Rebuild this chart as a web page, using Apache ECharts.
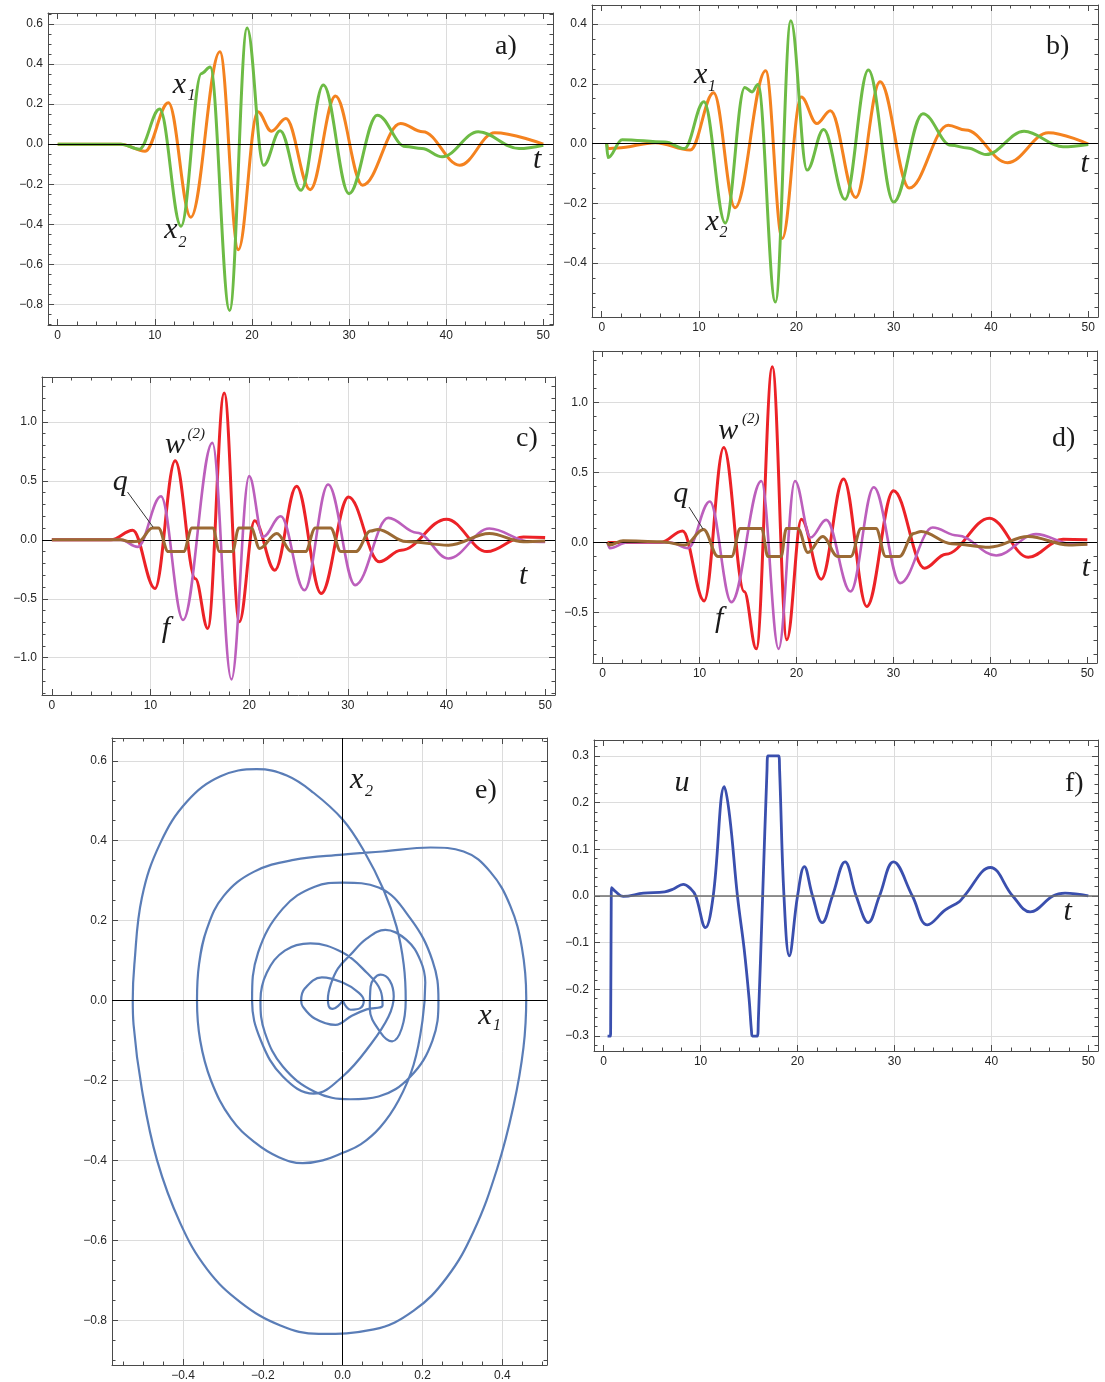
<!DOCTYPE html>
<html>
<head>
<meta charset="utf-8">
<script src="https://cdn.jsdelivr.net/npm/echarts@6.0.0/dist/echarts.min.js"></script>
<style>html,body{margin:0;padding:0;background:#fff}#c{width:1105px;height:1382px}</style>
</head>
<body>
<div id="c"></div>
<script>
// ================= DATA =================
// time-series panels a-d list the turning points (peaks, troughs, shoulders, plateau corners)
const T_TICKS = [0, 10, 20, 30, 40, 50];
const T_GRID = [10, 20, 30, 40];

// ---- panel a) x1 (orange), x2 (green) ----
const A_X1_T = [0, 6.5, 9.0, 11.4, 13.7, 16.7, 18.6, 20.6, 22.0, 23.5, 26.0, 28.6, 31.4, 35.3, 37.6, 41.4, 45.0, 50];
const A_X1_V = [0, 0, -0.035, 0.207, -0.365, 0.462, -0.527, 0.162, 0.065, 0.128, -0.227, 0.24, -0.205, 0.103, 0.062, -0.105, 0.057, 0];
const A_X2_T = [0, 6.5, 8.4, 10.5, 12.7, 14.8, 15.7, 17.7, 19.5, 21.2, 22.9, 25.05, 27.35, 30.0, 32.9, 35.8, 37.5, 39.6, 43.3, 47.5, 50];
const A_X2_V = [0, 0, -0.025, 0.175, -0.41, 0.353, 0.385, -0.83, 0.58, -0.105, 0.067, -0.23, 0.295, -0.247, 0.145, -0.012, -0.022, -0.063, 0.062, -0.022, -0.005];
const A_Y_TICKS = [-0.8, -0.6, -0.4, -0.2, 0, 0.2, 0.4, 0.6];

// ---- panel b) ----
const B_X1_T = [0.5, 0.65, 1.6, 5.5, 9.1, 11.5, 13.7, 16.85, 18.55, 20.5, 22.1, 23.5, 26.1, 28.6, 31.6, 35.6, 37.4, 41.7, 45.9, 50];
const B_X1_V = [0, -0.017, -0.015, 0.003, -0.022, 0.17, -0.215, 0.244, -0.318, 0.156, 0.067, 0.11, -0.181, 0.207, -0.149, 0.061, 0.045, -0.064, 0.036, -0.002];
const B_X2_T = [0.5, 0.65, 2.1, 6.5, 8.5, 10.5, 12.7, 14.7, 15.45, 16.05, 17.85, 19.43, 21.1, 22.8, 25.0, 27.4, 30.0, 33.0, 35.9, 37.6, 39.5, 43.4, 47.4, 50];
const B_X2_V = [0, -0.047, 0.013, 0.005, -0.017, 0.14, -0.266, 0.188, 0.173, 0.198, -0.531, 0.411, -0.089, 0.047, -0.187, 0.246, -0.196, 0.1, -0.006, -0.015, -0.037, 0.041, -0.011, -0.003];
const B_Y_TICKS = [-0.4, -0.2, 0, 0.2, 0.4];

// ---- panel c) w(2) red, f magenta, q brown ----
const C_W_T = [0, 6.0, 8.2, 10.45, 12.5, 14.55, 15.8, 17.47, 19.0, 20.55, 22.6, 24.8, 27.3, 30.07, 33.2, 35.4, 40.0, 44.1, 47.8, 50];
const C_W_V = [0, 0, 0.082, -0.412, 0.67, -0.33, -0.751, 1.246, -0.695, 0.161, -0.257, 0.455, -0.455, 0.364, -0.186, -0.088, 0.175, -0.1, 0.025, 0.02];
const C_F_T = [0, 7.0, 8.7, 11.06, 13.3, 16.27, 18.2, 20.0, 21.4, 23.2, 25.6, 28.0, 30.75, 34.1, 37.0, 40.2, 44.35, 48.5, 50];
const C_F_V = [0, 0, -0.06, 0.37, -0.68, 0.822, -1.184, 0.54, 0.025, 0.2, -0.427, 0.469, -0.384, 0.186, 0.06, -0.158, 0.096, -0.015, -0.017];
const C_Q_T = [0, 7.0, 8.0, 8.8, 10.2, 10.8, 11.8, 13.35, 14.2, 16.3, 17.0, 18.3, 18.95, 20.2, 21.06, 22.8, 24.3, 25.7, 26.7, 28.25, 29.3, 30.8, 32.3, 33.05, 35.9, 40.2, 44.35, 47.8, 50];
const C_Q_V = [0, 0, -0.017, -0.012, 0.1, 0.1, -0.1, -0.1, 0.1, 0.1, -0.1, -0.1, 0.1, 0.1, -0.073, 0.054, -0.1, -0.1, 0.1, 0.1, -0.1, -0.1, 0.075, 0.088, -0.015, -0.045, 0.054, -0.017, -0.01];
const C_Y_TICKS = [-1.0, -0.5, 0, 0.5, 1.0];

// ---- panel d) ----
const D_W_T = [0.5, 6.0, 8.24, 10.47, 12.49, 14.6, 15.85, 17.5, 19.0, 20.5, 22.55, 24.85, 27.25, 30.0, 33.2, 35.4, 39.9, 43.9, 47.5, 50];
const D_W_V = [0, 0, 0.083, -0.417, 0.679, -0.35, -0.76, 1.257, -0.695, 0.167, -0.262, 0.455, -0.457, 0.371, -0.183, -0.083, 0.174, -0.105, 0.024, 0.02];
const D_F_T = [0.5, 0.75, 2.5, 7.0, 8.8, 11.05, 13.28, 16.37, 18.15, 19.84, 21.45, 23.06, 25.57, 27.97, 30.7, 34.05, 36.6, 40.6, 44.7, 48.5, 50];
const D_F_V = [0, -0.04, 0, 0, -0.04, 0.293, -0.426, 0.44, -0.76, 0.44, 0.036, 0.162, -0.35, 0.395, -0.29, 0.107, 0.05, -0.093, 0.06, -0.012, -0.012];
const D_Q_T = [0.5, 0.7, 2.1, 6.0, 8.5, 10.4, 11.9, 13.3, 14.2, 16.4, 17.05, 18.4, 18.95, 20.15, 21.17, 22.7, 24.26, 25.6, 26.66, 28.2, 29.2, 30.6, 32.1, 32.85, 36.0, 39.9, 43.9, 48.1, 50];
const D_Q_V = [0, -0.017, 0.012, 0.005, -0.017, 0.094, -0.1, -0.1, 0.1, 0.1, -0.1, -0.1, 0.1, 0.1, -0.071, 0.043, -0.1, -0.1, 0.1, 0.1, -0.1, -0.1, 0.065, 0.079, -0.008, -0.033, 0.043, -0.017, -0.012];
const D_Y_TICKS = [-0.5, 0, 0.5, 1.0];

// ---- panel e) phase trajectory (x1, x2) ----
const E_X1 = [0, -0.01, -0.025, -0.035, -0.037, -0.03, -0.012, 0.02, 0.06, 0.107, 0.16, 0.195, 0.207, 0.2, 0.178, 0.14, 0.094, 0.045, 0, -0.05, -0.1, -0.16, -0.22, -0.28, -0.33, -0.357, -0.365, -0.36, -0.34, -0.298, -0.223, -0.123, 0, 0.1, 0.22, 0.303, 0.37, 0.42, 0.449, 0.46, 0.453, 0.428, 0.387, 0.328, 0.261, 0.178, 0.078, -0.06, -0.156, -0.256, -0.34, -0.407, -0.465, -0.503, -0.524, -0.526, -0.522, -0.503, -0.457, -0.39, -0.306, -0.215, -0.14, -0.073, 0, 0.053, 0.103, 0.135, 0.153, 0.158, 0.148, 0.124, 0.095, 0.068, 0.07, 0.095, 0.118, 0.128, 0.115, 0.07, 0, -0.073, -0.15, -0.205, -0.227, -0.212, -0.15, -0.07, 0, 0.09, 0.17, 0.225, 0.24, 0.225, 0.17, 0.09, 0.019, -0.07, -0.15, -0.195, -0.206, -0.19, -0.145, -0.081, 0, 0.06, 0.095, 0.1, 0.06, 0.023, -0.018, -0.07, -0.1, -0.104, -0.095, -0.052, 0, 0.04, 0.053, 0.044, 0.02, 0];
const E_X2 = [0, -0.012, -0.021, -0.014, 0.004, 0.04, 0.08, 0.115, 0.155, 0.177, 0.152, 0.1, 0.045, -0.05, -0.16, -0.25, -0.317, -0.36, -0.381, -0.4, -0.407, -0.392, -0.355, -0.295, -0.2, -0.1, 0, 0.09, 0.18, 0.262, 0.322, 0.352, 0.365, 0.373, 0.383, 0.373, 0.322, 0.237, 0.133, 0.007, -0.118, -0.264, -0.421, -0.578, -0.693, -0.776, -0.823, -0.834, -0.813, -0.755, -0.672, -0.557, -0.4, -0.223, -0.06, 0, 0.09, 0.258, 0.394, 0.498, 0.561, 0.579, 0.563, 0.52, 0.453, 0.375, 0.276, 0.185, 0.09, 0, -0.07, -0.102, -0.08, -0.02, 0.035, 0.065, 0.05, 0.01, -0.04, -0.11, -0.19, -0.233, -0.19, -0.1, 0, 0.12, 0.23, 0.285, 0.295, 0.283, 0.205, 0.1, 0, -0.1, -0.19, -0.24, -0.247, -0.228, -0.165, -0.08, 0, 0.07, 0.125, 0.143, 0.12, 0.07, 0.025, -0.012, -0.022, -0.038, -0.061, -0.045, -0.015, 0, 0.03, 0.058, 0.045, 0.02, 0, -0.019, -0.023, 0];
const E_X_TICKS = [-0.4, -0.2, 0, 0.2, 0.4];
const E_Y_TICKS = [-0.8, -0.6, -0.4, -0.2, 0, 0.2, 0.4, 0.6];

// ---- panel f) control u ----
const F_U_T = [0.4, 0.7, 0.72, 0.78, 0.8, 1.2, 2.0, 4.1, 6.3, 7.2, 8.2, 9.0, 9.5, 10.5, 11.3, 12.45, 13.0, 13.8, 14.5, 15.0, 15.25, 15.35, 15.85, 15.95, 16.4, 16.85, 16.95, 18.05, 18.15, 18.6, 19.15, 20.0, 20.7, 21.55, 22.55, 23.6, 24.9, 26.05, 27.3, 28.45, 29.9, 31.85, 33.4, 35.25, 36.7, 37.2, 39.9, 42.2, 44.0, 46.35, 47.6, 50];
const F_U_V = [-0.3, -0.3, -0.27, 0.0, 0.018, 0.01, -0.001, 0.006, 0.009, 0.015, 0.025, 0.015, 0, -0.068, 0, 0.234, 0.17, 0, -0.115, -0.22, -0.29, -0.3, -0.3, -0.27, 0, 0.27, 0.3, 0.3, 0.27, 0, -0.128, 0, 0.063, 0, -0.057, 0, 0.073, 0, -0.057, 0, 0.073, 0, -0.062, -0.03, -0.012, 0, 0.061, 0, -0.034, 0, 0.006, 0];
const F_Y_TICKS = [-0.3, -0.2, -0.1, 0, 0.1, 0.2, 0.3];

// ================= STYLE / LAYOUT =================
const FRAME = '#4a4a4a', GRIDC = '#dcdcdc', LABELC = '#262626';
const SANS = '"Liberation Sans", Arial, sans-serif';
const SERIF = '"Liberation Serif", "Times New Roman", serif';
const C_ORANGE = '#F4821F', C_GREEN = '#6DBB45', C_RED = '#EC2227', C_MAG = '#BC5FBC', C_BROWN = '#9B6A34', C_EBLUE = '#5A7DB7', C_FBLUE = '#3A4FAE';

function zip(a, b) { return a.map((v, i) => [v, b[i]]); }
function ticksIn(lo, hi, step) {
  const out = []; const k0 = Math.ceil(lo / step - 1e-9), k1 = Math.floor(hi / step + 1e-9);
  for (let k = k0; k <= k1; k++) out.push(+(k * step).toFixed(6));
  return out;
}
function minorTicks(lo, hi, step, majors) {
  return ticksIn(lo, hi, step).filter(v => !majors.some(m => Math.abs(m - v) < 1e-6));
}
function fmt(dec) { return v => (v < -1e-9 ? '\u2212' : '') + Math.abs(v).toFixed(dec); }

const option = { backgroundColor: '#fff', animation: false, grid: [], xAxis: [], yAxis: [], series: [], graphic: [] };

function baseAxis(gi, r, pos) {
  return { type: 'value', gridIndex: gi, min: r[0], max: r[1], position: pos, silent: true,
    axisLine: { show: false, onZero: false }, axisTick: { show: false }, axisLabel: { show: false },
    splitLine: { show: false }, splitArea: { show: false } };
}
function tickAxis(gi, r, pos, vals, len, line, label, dec) {
  const a = baseAxis(gi, r, pos);
  a.axisTick = { show: true, inside: true, length: len, customValues: vals, lineStyle: { color: FRAME, width: 1 } };
  if (line) a.axisLine = { show: true, onZero: false, lineStyle: { color: FRAME, width: 1 } };
  if (label) a.axisLabel = { show: true, customValues: vals, formatter: fmt(dec), color: LABELC, fontSize: 12, fontFamily: SANS, margin: 5 };
  return a;
}
function gridAxis(gi, r, pos, vals) {
  const a = baseAxis(gi, r, pos);
  a.axisTick = { show: false, customValues: vals };
  a.splitLine = { show: true, lineStyle: { color: GRIDC, width: 1 } };
  return a;
}

function addPanel(P) {
  const gi = option.grid.length;
  option.grid.push({ left: P.box[0], top: P.box[1], width: P.box[2], height: P.box[3] });
  const xi = option.xAxis.length, yi = option.yAxis.length;
  const xMin = minorTicks(P.x[0], P.x[1], P.xStep, P.xMaj);
  const yMin = minorTicks(P.y[0], P.y[1], P.yStep, P.yMaj);
  option.xAxis.push(
    tickAxis(gi, P.x, 'bottom', P.xMaj, 6, true, true, P.xDec),
    tickAxis(gi, P.x, 'bottom', xMin, 3.5, false, false),
    tickAxis(gi, P.x, 'top', P.xMaj, 6, true, false),
    tickAxis(gi, P.x, 'top', xMin, 3.5, false, false),
    gridAxis(gi, P.x, 'bottom', P.xGrid));
  option.yAxis.push(
    tickAxis(gi, P.y, 'left', P.yMaj, 6, true, true, P.yDec),
    tickAxis(gi, P.y, 'left', yMin, 3.5, false, false),
    tickAxis(gi, P.y, 'right', P.yMaj, 6, true, false),
    tickAxis(gi, P.y, 'right', yMin, 3.5, false, false),
    gridAxis(gi, P.y, 'left', P.yGrid));
  P.series.forEach((s, k) => {
    const ser = { type: 'line', xAxisIndex: xi, yAxisIndex: yi, data: s.data, showSymbol: false, symbol: 'none',
      silent: true, z: 3 + k, lineStyle: { color: s.color, width: s.width || 3 }, itemStyle: { color: s.color } };
    if (s.turning) { ser.smooth = 0.37; ser.smoothMonotone = 'x'; }
    else { ser.smooth = s.smooth != null ? s.smooth : 0.4; }
    if (k === P.series.length - 1) {
      const ml = [{ yAxis: 0 }];
      if (P.vAxis) ml.push({ xAxis: 0 });
      ser.markLine = { silent: true, symbol: ['none', 'none'], label: { show: false }, animation: false,
        lineStyle: { color: P.zeroColor || '#000', width: P.zeroWidth || 1, type: 'solid' }, data: ml };
    }
    option.series.push(ser);
  });
}

addPanel({ box: [48, 13, 505, 312], x: [-1, 51], y: [-0.903, 0.655], xMaj: T_TICKS, xStep: 2, xGrid: T_GRID, xDec: 0,
  yMaj: A_Y_TICKS, yStep: 0.05, yGrid: A_Y_TICKS, yDec: 1,
  series: [{ data: zip(A_X1_T, A_X1_V), color: C_ORANGE, turning: true }, { data: zip(A_X2_T, A_X2_V), color: C_GREEN, turning: true }] });
addPanel({ box: [592, 5, 506, 312], x: [-1, 51], y: [-0.581, 0.464], xMaj: T_TICKS, xStep: 2, xGrid: T_GRID, xDec: 0,
  yMaj: B_Y_TICKS, yStep: 0.05, yGrid: B_Y_TICKS, yDec: 1,
  series: [{ data: zip(B_X1_T, B_X1_V), color: C_ORANGE, turning: true }, { data: zip(B_X2_T, B_X2_V), color: C_GREEN, turning: true }] });
addPanel({ box: [42, 377, 513, 318], x: [-1, 51], y: [-1.316, 1.381], xMaj: T_TICKS, xStep: 2, xGrid: T_GRID, xDec: 0,
  yMaj: C_Y_TICKS, yStep: 0.1, yGrid: C_Y_TICKS, yDec: 1,
  series: [{ data: zip(C_W_T, C_W_V), color: C_RED, turning: true }, { data: zip(C_F_T, C_F_V), color: C_MAG, width: 2.6, turning: true }, { data: zip(C_Q_T, C_Q_V), color: C_BROWN, turning: true }] });
addPanel({ box: [593, 351, 504, 312], x: [-1, 51], y: [-0.861, 1.369], xMaj: T_TICKS, xStep: 2, xGrid: T_GRID, xDec: 0,
  yMaj: D_Y_TICKS, yStep: 0.1, yGrid: D_Y_TICKS, yDec: 1,
  series: [{ data: zip(D_W_T, D_W_V), color: C_RED, turning: true }, { data: zip(D_F_T, D_F_V), color: C_MAG, width: 2.6, turning: true }, { data: zip(D_Q_T, D_Q_V), color: C_BROWN, turning: true }] });
addPanel({ box: [112, 738, 435, 627], x: [-0.578, 0.512], y: [-0.912, 0.657], xMaj: E_X_TICKS, xStep: 0.05, xGrid: E_X_TICKS, xDec: 1,
  yMaj: E_Y_TICKS, yStep: 0.05, yGrid: E_Y_TICKS, yDec: 1, vAxis: true,
  series: [{ data: zip(E_X1, E_X2), color: C_EBLUE, width: 2.2, smooth: 0.4 }] });
addPanel({ box: [594, 740, 504, 311], x: [-1, 51], y: [-0.332, 0.334], xMaj: T_TICKS, xStep: 2, xGrid: T_GRID, xDec: 0,
  yMaj: F_Y_TICKS, yStep: 0.02, yGrid: F_Y_TICKS, yDec: 1, zeroColor: '#6e6e6e', zeroWidth: 1.5,
  series: [{ data: zip(F_U_T, F_U_V), color: C_FBLUE, width: 2.8, smooth: 0.4 }] });

// ================= TEXT ANNOTATIONS =================
// [text, left, baseline, fontSize, italic]
const ANN = [
  ['a)', 495, 56, 28, false], ['x', 172.7, 95, 30, true], ['1', 187.5, 101.5, 16, true], ['x', 164.3, 240, 30, true], ['2', 178.5, 248, 16, true], ['t', 533, 170.7, 30, true],
  ['b)', 1046, 56, 28, false], ['x', 694, 85, 30, true], ['1', 708, 91.7, 16, true], ['x', 705.5, 232, 30, true], ['2', 719.5, 238.3, 16, true], ['t', 1080.5, 174, 30, true],
  ['c)', 516, 448.3, 28, false], ['w', 165, 455, 30, true], ['(2)', 187.5, 439.5, 15, true], ['q', 112.7, 492, 30, true], ['f', 161.7, 639, 30, true], ['t', 519, 586, 30, true],
  ['d)', 1052, 448.3, 28, false], ['w', 718.3, 441.7, 30, true], ['(2)', 742, 424, 15, true], ['q', 673.3, 504, 30, true], ['f', 715, 629, 30, true], ['t', 1081.7, 578, 30, true],
  ['e)', 475, 800, 28, false], ['x', 350, 790.6, 30, true], ['2', 365, 797, 16, true], ['x', 478.3, 1025.8, 30, true], ['1', 493, 1031, 16, true],
  ['f)', 1065, 793, 28, false], ['u', 674.6, 793, 30, true], ['t', 1063.5, 922, 30, true]
];
ANN.forEach(a => {
  option.graphic.push({ type: 'text', x: a[1], y: a[2] - 0.3375 * a[3], z: 100, silent: true,
    style: { text: a[0], fill: '#1a1a1a', font: (a[4] ? 'italic ' : '') + a[3] + 'px ' + SERIF, align: 'left', verticalAlign: 'middle' } });
});
// leader lines for q
[[127.5, 492, 153, 527], [689, 507, 703, 529]].forEach(l => {
  option.graphic.push({ type: 'line', z: 100, silent: true, shape: { x1: l[0], y1: l[1], x2: l[2], y2: l[3] }, style: { stroke: '#333', lineWidth: 1 } });
});

const chart = echarts.init(document.getElementById('c'), null, { renderer: 'canvas', width: 1105, height: 1382 });
chart.setOption(option);
</script>
</body>
</html>
